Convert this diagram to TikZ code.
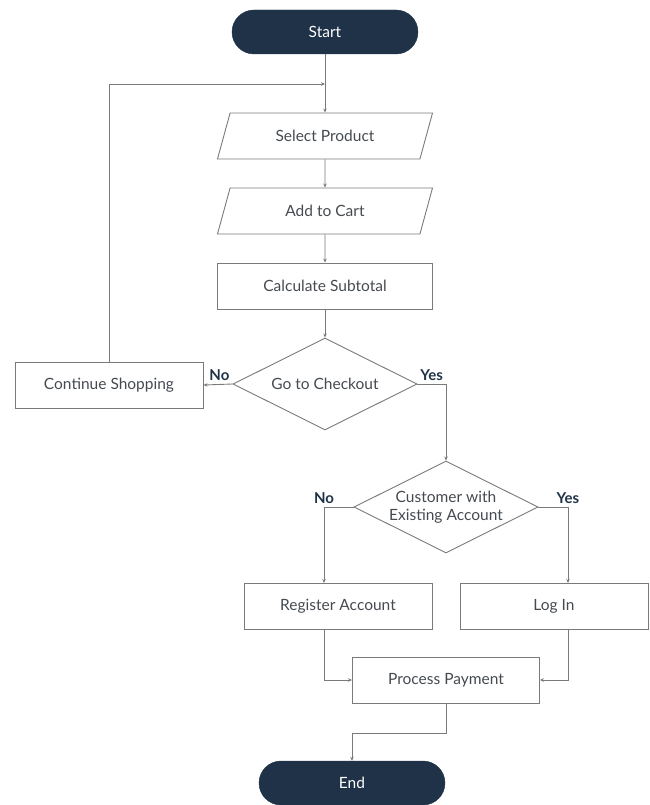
\documentclass[tikz,border=0pt]{standalone}
\usepackage{fontspec}
\setmainfont{Lato}
\usetikzlibrary{arrows.meta, positioning, shapes.geometric, calc}
\definecolor{navy}{HTML}{1F3248}
\definecolor{edge}{HTML}{7A7A7A}
\definecolor{txt}{HTML}{454A50}

\begin{document}
\begin{tikzpicture}[
    x=1pt, y=-1pt,
    every node/.style={font=\fontsize{15.5}{18.5}\selectfont, text=txt},
    term/.style={draw=navy, fill=navy, rounded corners=22pt, minimum width=186pt, minimum height=44pt, text=white},
    io/.style={trapezium, trapezium left angle=51, trapezium right angle=129, trapezium stretches body, draw=edge, line width=0.9pt, minimum width=215pt, minimum height=46pt, inner sep=2pt},
    proc/.style={draw=edge, line width=0.9pt, minimum width=188pt, minimum height=46pt},
    dec/.style={diamond, draw=edge, line width=0.9pt, minimum width=184pt, minimum height=92pt, aspect=2, align=center, inner sep=0pt},
    arr/.style={-{Stealth[length=4pt, width=3.5pt]}, edge, line width=0.9pt},
    yn/.style={font=\fontsize{15}{18}\selectfont\bfseries, text=navy},
]
\useasboundingbox (0,0) rectangle (649,805);

\node[term] (start) at (325, 32) {Start};
\node[io] (select) at (325, 136) {Select Product};
\node[io] (cart) at (325, 211) {Add to Cart};
\node[proc, minimum width=215pt] (subtot) at (325, 286) {Calculate Subtotal};
\node[dec] (checkout) at (325, 384) {Go to Checkout};
\node[proc] (cont) at (109, 385) {Continue Shopping};
\node[dec] (account) at (446, 507) {Customer with\\Existing Account};
\node[proc] (reg) at (338, 606) {Register Account};
\node[proc] (login) at (554, 606) {Log In};
\node[proc, minimum width=187pt] (pay) at (446, 680) {Process Payment};
\node[term] (end) at (352, 783) {End};

\coordinate (loopin) at (325, 84);
\coordinate (regin) at (324, 583);
\coordinate (regout) at (324, 629);
\coordinate (login_in) at (568, 583);
\coordinate (login_out) at (568, 629);
\coordinate (endbend) at (446, 733);

\draw[arr] (start) -- (select);
\draw[arr] (select) -- (cart);
\draw[arr] (cart) -- (subtot);
\draw[arr] (subtot) -- (checkout);
\draw[arr] (checkout.west) -- node[yn, above, pos=0.45] {No} (cont.east);
\draw[arr] (cont.north) |- (loopin);
\draw[arr] (checkout.east) -| node[yn, above, pos=0.25] {Yes} (account.north);
\draw[arr] (account.west) -| node[yn, above, pos=0.5] {No} (regin);
\draw[arr] (account.east) -| node[yn, above, pos=0.5] {Yes} (login_in);
\draw[arr] (regout) |- (pay.west);
\draw[arr] (login_out) |- (pay.east);
\draw[arr] (pay.south) -- (endbend) -| (end.north);

\end{tikzpicture}
\end{document}
